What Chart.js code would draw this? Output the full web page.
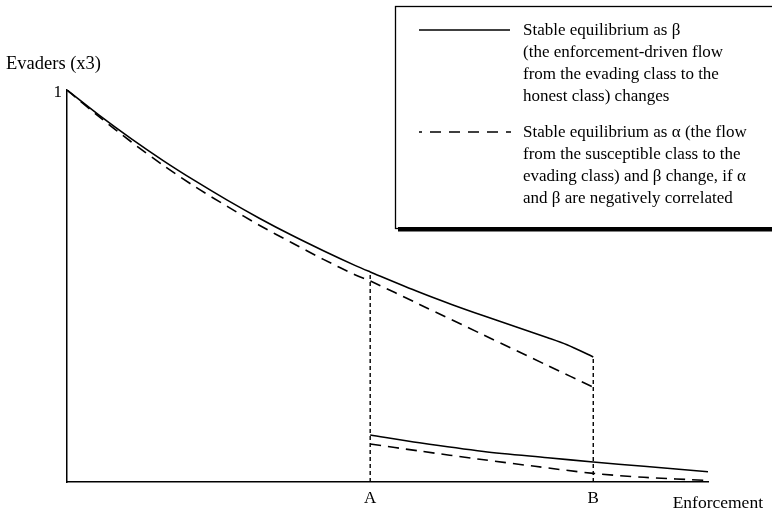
<!DOCTYPE html>
<html>
<head>
<meta charset="utf-8">
<script src="https://cdn.jsdelivr.net/npm/chart.js@4.4.1/dist/chart.umd.min.js"></script>
<style>
  html, body { margin: 0; padding: 0; background: #fff; }
  #wrap { width: 772px; height: 512px; position: relative; }
</style>
</head>
<body>
<div id="wrap"><canvas id="c" width="772" height="512"></canvas></div>
<script>
// ---- data (x: enforcement 0..100, y: evaders 0..1) ----
const pointA = 47.3;
const pointB = 82.1;
const solidUpperX = [0, 5, 10, 15, 20, 25, 30, 35, 40, 45, 47.3, 55, 60, 65, 70, 75, 78, 82.1];
const solidUpperY = [1.000, 0.936, 0.876, 0.820, 0.768, 0.719, 0.673, 0.630, 0.590, 0.552, 0.536, 0.484, 0.453, 0.424, 0.396, 0.368, 0.350, 0.319];
const dashedUpperX = [0, 5, 10, 15, 20, 25, 30, 35, 40, 45, 47.3, 55, 65, 75, 82.1];
const dashedUpperY = [1.000, 0.932, 0.868, 0.808, 0.753, 0.703, 0.655, 0.611, 0.568, 0.528, 0.513, 0.453, 0.375, 0.297, 0.242];
const solidLowerX = [47.3, 55, 65, 75, 82.1, 90, 100];
const solidLowerY = [0.120, 0.100, 0.078, 0.062, 0.051, 0.040, 0.026];
const dashedLowerX = [47.3, 55, 64.4, 73, 82.1, 90, 100];
const dashedLowerY = [0.097, 0.079, 0.058, 0.040, 0.022, 0.012, 0.004];
const xTickLabels = ['A', 'B'];
const yTickLabel = '1';
const yAxisTitle = 'Evaders (x3)';
const xAxisTitle = 'Enforcement';
const legendSolidLines = [
  'Stable equilibrium as \u03B2',
  '(the enforcement-driven flow',
  'from the evading class to the',
  'honest class) changes'
];
const legendDashedLines = [
  'Stable equilibrium as \u03B1 (the flow',
  'from the susceptible class to the',
  'evading class) and \u03B2 change, if \u03B1',
  'and \u03B2 are negatively correlated'
];

const zip = (xs, ys) => xs.map((x, i) => ({ x: x, y: ys[i] }));

const SERIF = '"Liberation Serif", "DejaVu Serif", serif';

const annotate = {
  id: 'annotate',
  afterDraw(chart) {
    const ctx = chart.ctx;
    const xs = chart.scales.x, ys = chart.scales.y;
    ctx.save();
    ctx.fillStyle = '#000';
    ctx.textBaseline = 'alphabetic';
    // axis titles / tick labels
    ctx.font = '18.5px ' + SERIF;
    ctx.textAlign = 'left';
    ctx.fillText(yAxisTitle, 6, 69);
    ctx.font = '17px ' + SERIF;
    ctx.textAlign = 'right';
    ctx.fillText(yTickLabel, 62, ys.getPixelForValue(1) + 7);
    ctx.textAlign = 'center';
    ctx.fillText(xTickLabels[0], xs.getPixelForValue(pointA), 503);
    ctx.fillText(xTickLabels[1], xs.getPixelForValue(pointB), 503);
    ctx.font = '17.5px ' + SERIF;
    ctx.textAlign = 'right';
    ctx.fillText(xAxisTitle, 763, 508);

    // legend box (right side runs off the page)
    const L = 395, T = 6, R = 776, B = 228;
    ctx.fillStyle = '#fff';
    ctx.fillRect(L, T, R - L, B - T);
    ctx.strokeStyle = '#000';
    ctx.lineWidth = 1.3;
    ctx.strokeRect(L + 0.5, T + 0.5, R - L, B - T);
    ctx.fillStyle = '#000';
    ctx.fillRect(L + 3, B - 1, R - L, 4.5);

    // legend samples
    ctx.lineWidth = 1.5;
    ctx.beginPath();
    ctx.moveTo(419, 30); ctx.lineTo(510, 30);
    ctx.stroke();
    ctx.setLineDash([11, 8]);
    ctx.lineDashOffset = 8;
    ctx.beginPath();
    ctx.moveTo(419, 132); ctx.lineTo(511, 132);
    ctx.stroke();
    ctx.setLineDash([]);

    ctx.font = '17px ' + SERIF;
    ctx.textAlign = 'left';
    legendSolidLines.forEach((t, i) => ctx.fillText(t, 523, 35 + i * 22));
    legendDashedLines.forEach((t, i) => ctx.fillText(t, 523, 137 + i * 22));
    ctx.restore();
  }
};

const lineBase = { borderColor: '#000', borderWidth: 1.6, pointRadius: 0, fill: false, tension: 0.3 };

new Chart(document.getElementById('c'), {
  type: 'line',
  data: {
    datasets: [
      Object.assign({}, lineBase, { data: zip(solidUpperX, solidUpperY) }),
      Object.assign({}, lineBase, { data: zip(dashedUpperX, dashedUpperY), borderDash: [11, 7] }),
      Object.assign({}, lineBase, { data: zip(solidLowerX, solidLowerY) }),
      Object.assign({}, lineBase, { data: zip(dashedLowerX, dashedLowerY), borderDash: [11, 7] }),
      Object.assign({}, lineBase, { data: [{ x: pointA, y: 0 }, { x: pointA, y: solidUpperY[10] }], borderDash: [4, 3], borderWidth: 1.4, tension: 0 }),
      Object.assign({}, lineBase, { data: [{ x: pointB, y: 0 }, { x: pointB, y: solidUpperY[solidUpperY.length - 1] }], borderDash: [4, 3], borderWidth: 1.4, tension: 0 })
    ]
  },
  options: {
    responsive: false,
    animation: false,
    devicePixelRatio: 1,
    layout: { padding: { left: 67, top: 90, right: 64, bottom: 30 } },
    plugins: { legend: { display: false }, tooltip: { enabled: false } },
    scales: {
      x: {
        type: 'linear', min: 0, max: 100,
        grid: { display: false, drawTicks: false },
        ticks: { display: false },
        border: { display: true, color: '#000', width: 1.5 }
      },
      y: {
        type: 'linear', min: 0, max: 1,
        grid: { display: false, drawTicks: false },
        ticks: { display: false },
        border: { display: true, color: '#000', width: 1.5 }
      }
    }
  },
  plugins: [annotate]
});
</script>
</body>
</html>
